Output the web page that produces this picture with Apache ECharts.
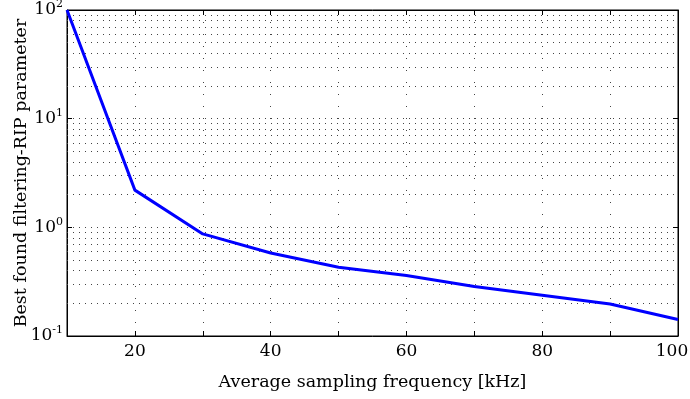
<!DOCTYPE html>
<html>
<head>
<meta charset="utf-8">
<script src="https://cdn.jsdelivr.net/npm/echarts@6/dist/echarts.min.js"></script>
<style>html,body{margin:0;padding:0;background:#fff}#c{width:690px;height:399px}</style>
</head>
<body>
<div id="c"></div>
<script>
const freqs = [10, 20, 30, 40, 50, 60, 70, 80, 90, 100];
const ripParam = [100, 2.2, 0.87, 0.58, 0.43, 0.36, 0.285, 0.237, 0.197, 0.142];
const xTickLabels = [20, 40, 60, 80, 100];
const minorGridValues = [0.2,0.3,0.4,0.5,0.6,0.7,0.8,0.9,2,3,4,5,6,7,8,9,20,30,40,50,60,70,80,90];
const xTitle = 'Average sampling frequency [kHz]';
const yTitle = 'Best found filtering-RIP parameter';

const FONT = '"DejaVu Serif", "Liberation Serif", serif';
const chart = echarts.init(document.getElementById('c'));
const data = freqs.map((f, i) => [f, ripParam[i]]);

chart.setOption({
  animation: false,
  grid: {left: 67, right: 12, top: 10, bottom: 63, show: true, borderColor: '#000', borderWidth: 1,
    containLabel: false, outerBoundsMode: 'none'},
  xAxis: [{
    type: 'value', min: 10, max: 100, interval: 10,
    name: xTitle, nameLocation: 'middle', nameGap: 37, nameMoveOverlap: false,
    nameTextStyle: {fontFamily: FONT, fontSize: 17.5, color: '#000'},
    axisLine: {lineStyle: {color: '#000', width: 1}},
    axisTick: {inside: true, length: 5, lineStyle: {color: '#000'}},
    axisLabel: {fontFamily: FONT, fontSize: 17, color: '#000', margin: 7,
      formatter: v => {
        if (xTickLabels.indexOf(v) < 0) return '';
        return v === 100 ? '{r|' + v + '}' : String(v);
      },
      rich: {r: {fontFamily: FONT, fontSize: 17, color: '#000', padding: [0, 12, 0, 0]}}
    },
    splitLine: {show: true, lineStyle: {color: '#444', type: [1, 11], width: 1}}
  }, {
    type: 'value', min: 10, max: 100, interval: 10, position: 'top',
    axisLine: {show: true, lineStyle: {color: '#000'}},
    axisTick: {inside: true, length: 5, lineStyle: {color: '#000'}},
    axisLabel: {show: false}, splitLine: {show: false}
  }],
  yAxis: [{
    type: 'log', min: 0.1, max: 100, logBase: 10,
    name: yTitle, nameLocation: 'middle', nameGap: 37, nameMoveOverlap: false,
    nameTextStyle: {fontFamily: FONT, fontSize: 17.5, color: '#000'},
    axisLine: {lineStyle: {color: '#000', width: 1}},
    axisTick: {inside: true, length: 5, lineStyle: {color: '#000'}},
    axisLabel: {margin: 4, color: '#000',
      formatter: v => {
        const e = Math.round(Math.log10(v));
        return '{b|10}{s|' + e + '}';
      },
      rich: {
        b: {fontFamily: FONT, fontSize: 17, color: '#000', lineHeight: 22},
        s: {fontFamily: FONT, fontSize: 11, color: '#000', verticalAlign: 'top', lineHeight: 12}
      }
    },
    splitLine: {show: true, lineStyle: {color: '#444', type: [1, 5], width: 1}}
  }, {
    type: 'log', min: 0.1, max: 100, logBase: 10, position: 'right',
    axisLine: {show: true, lineStyle: {color: '#000'}},
    axisTick: {inside: true, length: 5, lineStyle: {color: '#000'}},
    axisLabel: {show: false}, splitLine: {show: false}
  }],
  series: [{
    type: 'line', data: data, xAxisIndex: 0, yAxisIndex: 0,
    symbol: 'none', lineStyle: {color: '#0000ff', width: 3}, z: 5,
    markLine: {
      silent: true, symbol: 'none', label: {show: false},
      lineStyle: {color: '#444', type: [1, 5], width: 1},
      data: minorGridValues.map(v => ({yAxis: v}))
    }
  }]
});
</script>
</body>
</html>
